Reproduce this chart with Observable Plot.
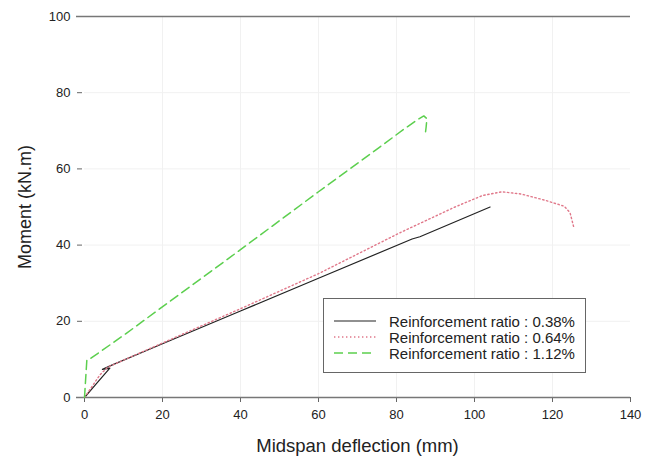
<!DOCTYPE html>
<html>
<head>
<meta charset="utf-8">
<script src="https://cdn.jsdelivr.net/npm/d3@7"></script>
<script src="https://cdn.jsdelivr.net/npm/@observablehq/plot@0.6"></script>
<style>
  html, body { margin: 0; padding: 0; background: #fff; }
  #wrap { position: relative; width: 651px; height: 463px; font-family: "Liberation Sans", Arial, sans-serif; }
  #legend { position: absolute; left: 323px; top: 298px; width: 261px; height: 73px; border: 1px solid #666; background: #fff; box-sizing: content-box; }
  #legend .row { position: absolute; left: 0; height: 16px; display: flex; align-items: center; font-size: 15px; color: #222; white-space: nowrap; }
  #legend svg { margin-left: 10px; margin-right: 13px; }
</style>
</head>
<body>
<div id="wrap"></div>
<script>
// ---- data ----
const xTicks = [0, 20, 40, 60, 80, 100, 120, 140];
const yTicks = [0, 20, 40, 60, 80, 100];

const seriesNames = ["Reinforcement ratio : 0.38%", "Reinforcement ratio : 0.64%", "Reinforcement ratio : 1.12%"];

const r038_x = [0, 3, 6.5, 4.6, 7, 20, 40, 60, 84, 86, 104];
const r038_y = [0, 3.6, 7.7, 7.4, 8.5, 14.1, 22.7, 31.3, 41.6, 42.2, 50];

const r064_x = [0, 2, 4, 6, 20, 40, 60, 81, 95, 102, 107, 112, 118, 123, 124.5, 125.5];
const r064_y = [0, 3, 6, 8, 14.3, 23.3, 32.5, 43.3, 50, 53, 54, 53.4, 51.8, 50.2, 48.5, 44.5];

const r112_x = [0, 0.6, 1.5, 10, 40, 60, 75, 82, 85.5, 87, 87.8, 87.6, 87.4];
const r112_y = [0, 9.8, 10.2, 16.3, 38.8, 54, 65.2, 70.5, 73, 73.9, 73.2, 71, 69.3];

const colors = ["#222222", "#e0788a", "#5ccf4e"];
const dashes = [null, "1.4,2.6", "9,5"];
const widths = [1.2, 1.4, 1.5];

// ---- build tables ----
const toRows = (xs, ys) => xs.map((x, i) => ({x, y: ys[i]}));
const tables = [toRows(r038_x, r038_y), toRows(r064_x, r064_y), toRows(r112_x, r112_y)];

const plot = Plot.plot({
  width: 651,
  height: 463,
  marginLeft: 84,
  marginRight: 21,
  marginTop: 16,
  marginBottom: 66,
  style: {fontFamily: "Liberation Sans, Arial, sans-serif", fontSize: "13px", color: "#222", background: "#fff"},
  x: {domain: [0, 140]},
  y: {domain: [0, 100]},
  marks: [
    Plot.ruleX(xTicks.slice(1, -1), {stroke: "#f1f1f1"}),
    Plot.ruleY(yTicks.slice(1, -1), {stroke: "#f1f1f1"}),
    Plot.axisX({ticks: xTicks, tickSize: 5, tickPadding: 7, stroke: "#666", fontSize: 13,
      label: "Midspan deflection (mm)", labelAnchor: "center", labelOffset: 54, labelArrow: "none"}),
    Plot.axisY({ticks: yTicks, tickSize: 5, tickPadding: 7, dx: -2, stroke: "#666", fontSize: 13,
      label: "Moment (kN.m)", labelAnchor: "center", labelOffset: 66, labelArrow: "none"}),
    Plot.ruleY([0, 100], {stroke: "#777", strokeWidth: 1.5, insetLeft: -8}),
    ...tables.map((t, i) => Plot.line(t, {x: "x", y: "y", stroke: colors[i], strokeWidth: widths[i], strokeDasharray: dashes[i]}))
  ]
});

// enlarge axis label fonts
plot.querySelectorAll('[aria-label="x-axis label"] text').forEach(t => t.setAttribute("font-size", "18.5"));
plot.querySelectorAll('[aria-label="y-axis label"] text').forEach(t => t.setAttribute("font-size", "18"));

const wrap = document.getElementById("wrap");
wrap.appendChild(plot);

// legend overlay
const legend = document.createElement("div");
legend.id = "legend";
seriesNames.forEach((name, i) => {
  const row = document.createElement("div");
  row.className = "row";
  row.style.top = (14 + i * 16) + "px";
  const s = d3.create("svg").attr("width", 42).attr("height", 6);
  s.append("line").attr("x1", 0).attr("x2", 42).attr("y1", 3).attr("y2", 3)
    .attr("stroke", colors[i]).attr("stroke-width", widths[i])
    .attr("stroke-dasharray", dashes[i]);
  row.appendChild(s.node());
  const span = document.createElement("span");
  span.textContent = name;
  row.appendChild(span);
  legend.appendChild(row);
});
wrap.appendChild(legend);
</script>
</body>
</html>
